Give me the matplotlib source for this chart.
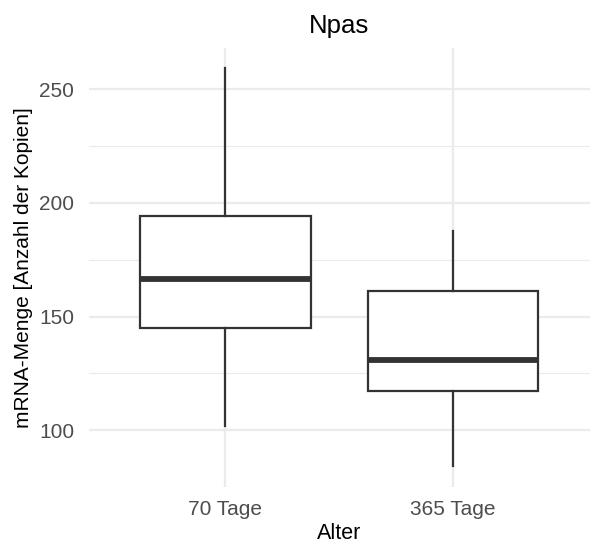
import matplotlib
matplotlib.use("Agg")
import matplotlib.pyplot as plt

plt.rcParams['font.family'] = ['Liberation Sans', 'DejaVu Sans']

# data
groups = ['70 Tage', '365 Tage']
whisker_low = [101.8, 84.4]
q1 = [145.2, 117.3]
median = [166.7, 130.9]
q3 = [194.4, 161.1]
whisker_high = [259.2, 187.6]
y_ticks = [100, 150, 200, 250]
y_minor = [75, 125, 175, 225]

stats = []
for i, g in enumerate(groups):
    stats.append(dict(label=g, whislo=whisker_low[i], q1=q1[i], med=median[i],
                      q3=q3[i], whishi=whisker_high[i], fliers=[]))

fig = plt.figure(figsize=(5.91, 5.53), dpi=100)
ax = fig.add_axes([0.150, 0.119, 0.8476, 0.7933])

dark = '#333333'
ax.bxp(stats, positions=[1, 2], widths=0.75, showcaps=False, patch_artist=True,
       boxprops=dict(facecolor='white', edgecolor=dark, linewidth=1.6),
       whiskerprops=dict(color=dark, linewidth=1.6),
       medianprops=dict(color=dark, linewidth=4.2, solid_capstyle='butt'),
       zorder=3)

ax.set_xlim(0.4, 2.6)
ax.set_ylim(75.7, 267.9)
ax.set_yticks(y_ticks)
ax.set_yticks(y_minor, minor=True)
ax.set_xticks([1, 2])
ax.set_xticklabels(groups)

ax.grid(which='major', color='#EBEBEB', linewidth=1.6, zorder=0)
ax.grid(which='minor', axis='y', color='#EBEBEB', linewidth=0.8, zorder=0)
ax.set_axisbelow(True)
for s in ax.spines.values():
    s.set_visible(False)
ax.tick_params(which='both', length=0, labelsize=15, labelcolor='#4D4D4D')
ax.tick_params(axis='y', pad=10.5)
ax.tick_params(axis='x', pad=9)

ax.set_title('Npas', fontsize=18.5, pad=11)
ax.set_xlabel('Alter', fontsize=15.5, labelpad=3)
ax.set_ylabel('mRNA-Menge [Anzahl der Kopien]', fontsize=15, labelpad=4)

plt.savefig('out.png', dpi=100)
